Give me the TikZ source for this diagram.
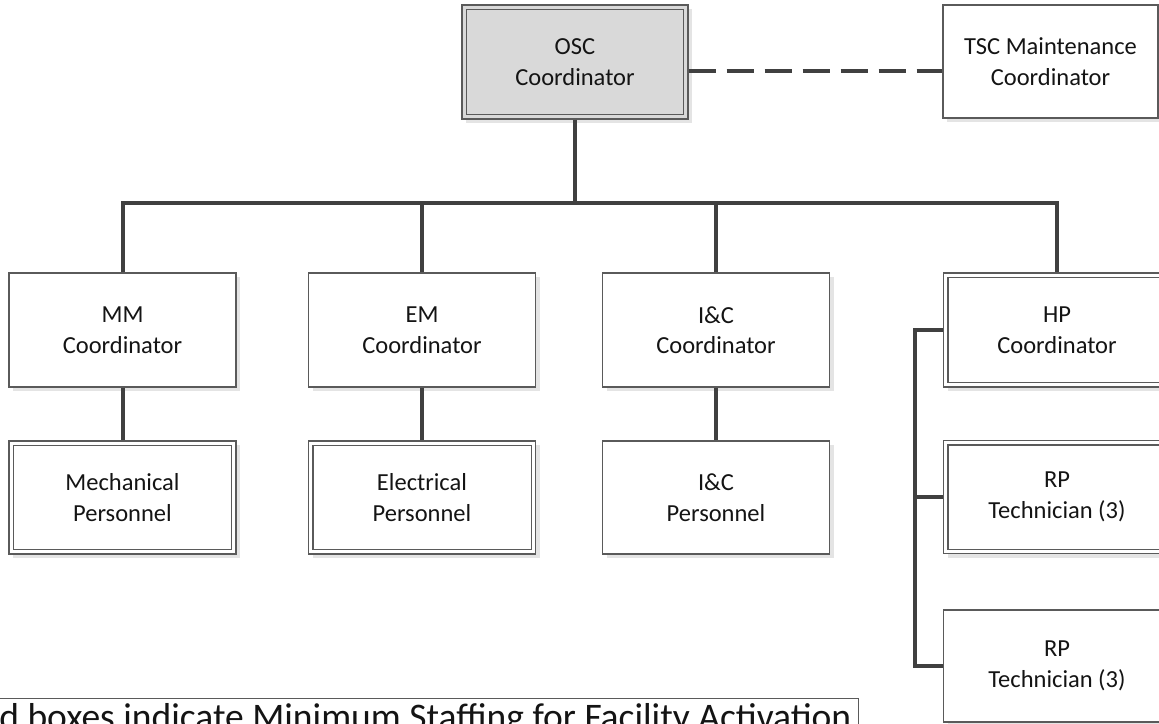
\documentclass[tikz,border=0pt]{standalone}
\usepackage{fontspec}
\setmainfont{Carlito}
\usetikzlibrary{shadows}
\definecolor{boxgray}{HTML}{5A5A5A}
\definecolor{conncol}{HTML}{404040}
\definecolor{oscfill}{HTML}{D9D9D9}
\definecolor{shadowcol}{HTML}{E4E4E4}
\definecolor{txt}{HTML}{141414}
\begin{document}
\begin{tikzpicture}[x=1pt,y=1pt,
  box/.style={draw=boxgray, line width=1.3pt, fill=white, minimum width=227pt, minimum height=114pt,
    inner sep=0pt, align=center, font=\fontsize{24.5}{30.5}\selectfont, text=txt,
    drop shadow={shadow xshift=4pt, shadow yshift=-4pt, fill=shadowcol, opacity=1}},
  innerline/.style={draw=boxgray, line width=1.3pt},
  conn/.style={draw=conncol, line width=4pt, line join=miter},
  note/.style={draw=boxgray, line width=1.3pt, anchor=north east, inner xsep=7pt, inner ysep=5pt,
    text height=26pt, text depth=8pt, font=\fontsize{37.5}{44}\selectfont, text=txt}]
\useasboundingbox (0,0) rectangle (1159,-723);
\clip (0,0) rectangle (1159,-723);
\fill[white] (0,0) rectangle (1159,-723);

% nodes
\node[box, fill=oscfill, minimum width=226pt] (osc) at (575,-62) {OSC\\Coordinator};
\node[box, minimum width=215pt, minimum height=113pt] (tsc) at (1050.5,-61.5) {TSC Maintenance\\Coordinator};
\node[box] (mm) at (122.5,-330) {MM\\Coordinator};
\node[box] (em) at (422,-330) {EM\\Coordinator};
\node[box] (ic) at (716,-330) {I\&C\\Coordinator};
\node[box] (hp) at (1057,-330) {HP\\Coordinator};
\node[box, minimum height=113pt] (mech) at (122.5,-497.5) {Mechanical\\Personnel};
\node[box, minimum height=113pt] (elec) at (422,-497.5) {Electrical\\Personnel};
\node[box, minimum height=113pt] (icp) at (716,-497.5) {I\&C\\Personnel};
\node[box, minimum height=113pt] (rp1) at (1057,-497) {RP\\Technician (3)};
\node[box, minimum height=112pt] (rp2) at (1057,-666) {RP\\Technician (3)};

% inner lines of double boxes
\foreach \n in {osc,hp,mech,elec,rp1}
  \draw[innerline] ([shift={(5pt,-5pt)}]\n.north west) rectangle ([shift={(-5pt,5pt)}]\n.south east);

% connectors
\coordinate (bus) at (0,-203);
\coordinate (brk) at (915,0);
\draw[conn] (osc.south) -- (osc.south |- bus);
\draw[conn] (mm.north) -- (mm.north |- bus) -- (hp.north |- bus) -- (hp.north);
\draw[conn] (em.north) -- (em.north |- bus);
\draw[conn] (ic.north) -- (ic.north |- bus);
\draw[conn] (mm.south) -- (mech.north);
\draw[conn] (em.south) -- (elec.north);
\draw[conn] (ic.south) -- (icp.north);
\draw[conn] (hp.west) -- (hp.west -| brk) -- (rp2.west -| brk) -- (rp2.west);
\draw[conn] (rp1.west -| brk) -- (rp1.west);
\draw[conn, dash pattern=on 27pt off 11pt] ([yshift=-9pt]osc.east) -- ([yshift=-9pt]osc.east -| tsc.west);

% note
\node[note] (note) at (859,-698) {d boxes indicate Minimum Staffing for Facility Activation};
\end{tikzpicture}
\end{document}
